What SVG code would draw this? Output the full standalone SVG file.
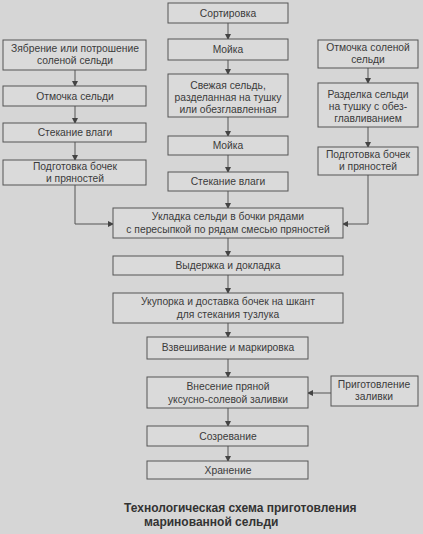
<svg xmlns="http://www.w3.org/2000/svg" width="423" height="534" viewBox="0 0 423 534">
<style>
.b{fill:#dadada;stroke:#555;stroke-width:1}
.t{font-family:"Liberation Sans",Arial,sans-serif;font-size:10.3px;fill:#3a3a3a;text-anchor:middle}
.c{fill:none;stroke:#555;stroke-width:1}
.cap{font-family:"Liberation Sans",Arial,sans-serif;font-size:12px;font-weight:bold;fill:#333}
</style>
<defs><marker id="a" markerWidth="6" markerHeight="6" refX="5" refY="3" orient="auto" markerUnits="userSpaceOnUse"><path d="M0,0L6,3L0,6z" fill="#444"/></marker></defs>
<rect width="423" height="534" fill="#d6d6d6"/>
<g id="connectors">
<path class="c" marker-end="url(#a)" d="M228,23V39"/>
<path class="c" marker-end="url(#a)" d="M228,60V74"/>
<path class="c" marker-end="url(#a)" d="M228,117V136"/>
<path class="c" marker-end="url(#a)" d="M228,155V172"/>
<path class="c" marker-end="url(#a)" d="M228,191V208"/>
<path class="c" marker-end="url(#a)" d="M75,70V86"/>
<path class="c" marker-end="url(#a)" d="M75,106V123"/>
<path class="c" marker-end="url(#a)" d="M75,142V160"/>
<path class="c" marker-end="url(#a)" d="M75,185V224H113"/>
<path class="c" marker-end="url(#a)" d="M368,68V83"/>
<path class="c" marker-end="url(#a)" d="M368,127V147"/>
<path class="c" marker-end="url(#a)" d="M368,175V224H343"/>
<path class="c" marker-end="url(#a)" d="M228,238V256"/>
<path class="c" marker-end="url(#a)" d="M228,275V293"/>
<path class="c" marker-end="url(#a)" d="M228,323V337"/>
<path class="c" marker-end="url(#a)" d="M228,359V377"/>
<path class="c" marker-end="url(#a)" d="M331,393H308"/>
<path class="c" marker-end="url(#a)" d="M228,408V426"/>
<path class="c" marker-end="url(#a)" d="M228,446V461"/>
</g>
<g id="n1"><rect class="b" x="168" y="3" width="120" height="20"/><text class="t" x="228" y="17">Сортировка</text></g>
<g id="n2"><rect class="b" x="168" y="39" width="120" height="21"/><text class="t" x="228" y="53">Мойка</text></g>
<g id="n3"><rect class="b" x="168" y="74" width="120" height="43"/><text class="t" x="228" y="89">Свежая сельдь,</text><text class="t" x="228" y="101">разделанная на тушку</text><text class="t" x="228" y="113">или обезглавленная</text></g>
<g id="n4"><rect class="b" x="168" y="136" width="120" height="19"/><text class="t" x="228" y="149">Мойка</text></g>
<g id="n5"><rect class="b" x="168" y="172" width="120" height="19"/><text class="t" x="228" y="185">Стекание влаги</text></g>
<g id="l1"><rect class="b" x="3" y="40" width="143" height="30"/><text class="t" x="75" y="52">Зябрение или потрошение</text><text class="t" x="75" y="64">соленой сельди</text></g>
<g id="l2"><rect class="b" x="3" y="86" width="143" height="20"/><text class="t" x="75" y="100">Отмочка сельди</text></g>
<g id="l3"><rect class="b" x="3" y="123" width="143" height="19"/><text class="t" x="75" y="136">Стекание влаги</text></g>
<g id="l4"><rect class="b" x="3" y="160" width="143" height="25"/><text class="t" x="75" y="170">Подготовка бочек</text><text class="t" x="75" y="182">и пряностей</text></g>
<g id="r1"><rect class="b" x="318" y="40" width="100" height="28"/><text class="t" x="368" y="51">Отмочка соленой</text><text class="t" x="368" y="63">сельди</text></g>
<g id="r2"><rect class="b" x="318" y="83" width="100" height="44"/><text class="t" x="368" y="98">Разделка сельди</text><text class="t" x="368" y="110">на тушку с обез-</text><text class="t" x="368" y="122">главливанием</text></g>
<g id="r3"><rect class="b" x="318" y="147" width="100" height="28"/><text class="t" x="368" y="158">Подготовка бочек</text><text class="t" x="368" y="170">и пряностей</text></g>
<g id="m1"><rect class="b" x="113" y="208" width="230" height="30"/><text class="t" x="228" y="220">Укладка сельди в бочки рядами</text><text class="t" x="228" y="233">с пересыпкой по рядам смесью пряностей</text></g>
<g id="m2"><rect class="b" x="113" y="256" width="230" height="19"/><text class="t" x="228" y="269">Выдержка и докладка</text></g>
<g id="m3"><rect class="b" x="113" y="293" width="230" height="30"/><text class="t" x="228" y="305">Укупорка и доставка бочек на шкант</text><text class="t" x="228" y="318">для стекания тузлука</text></g>
<g id="m4"><rect class="b" x="147" y="337" width="161" height="22"/><text class="t" x="228" y="351">Взвешивание и маркировка</text></g>
<g id="m5"><rect class="b" x="147" y="377" width="161" height="31"/><text class="t" x="228" y="390">Внесение пряной</text><text class="t" x="228" y="403">уксусно-солевой заливки</text></g>
<g id="p1"><rect class="b" x="331" y="376" width="87" height="30"/><text class="t" x="374" y="388">Приготовление</text><text class="t" x="374" y="400">заливки</text></g>
<g id="m6"><rect class="b" x="147" y="426" width="161" height="20"/><text class="t" x="228" y="440">Созревание</text></g>
<g id="m7"><rect class="b" x="147" y="461" width="161" height="18"/><text class="t" x="228" y="474">Хранение</text></g>
<g id="caption"><text class="cap" x="124" y="512">Технологическая схема приготовления</text><text class="cap" x="144" y="526">маринованной сельди</text></g>
</svg>
